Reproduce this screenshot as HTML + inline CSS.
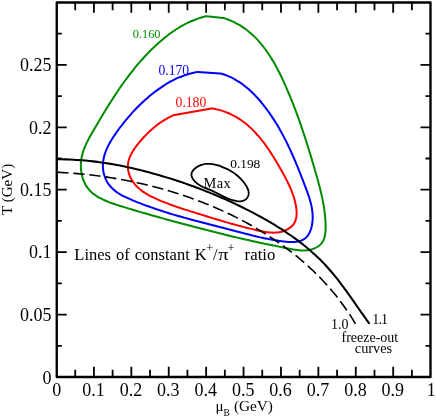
<!DOCTYPE html>
<html><head><meta charset="utf-8"><title>chart</title>
<style>html,body{margin:0;padding:0;background:#fff;}body{width:436px;height:418px;overflow:hidden;font-family:"Liberation Serif",serif;}</style></head>
<body>
<div style="width:436px;height:418px;will-change:transform">
<svg width="436" height="418" viewBox="0 0 436 418" style="display:block">
<defs><mask id="tm" maskUnits="userSpaceOnUse" x="0" y="0" width="436" height="418"><rect width="436" height="418" fill="#fff"/></mask></defs>
<rect width="436" height="418" fill="#fff"/>
<g fill="none" stroke-linejoin="round" stroke-linecap="butt">
<path d="M206.20,16.20C207.78,16.38 212.73,16.98 215.70,17.30C218.67,17.62 222.62,17.97 224.00,18.10C224.66,18.33 226.65,18.98 227.94,19.47C229.22,19.96 230.48,20.49 231.72,21.04C232.96,21.59 234.17,22.17 235.36,22.78C236.55,23.39 237.71,24.03 238.85,24.70C239.99,25.37 241.11,26.07 242.21,26.79C243.31,27.51 244.38,28.26 245.43,29.03C246.49,29.80 247.52,30.60 248.53,31.42C249.54,32.24 250.53,33.09 251.50,33.96C252.48,34.82 253.43,35.71 254.36,36.62C255.29,37.53 256.20,38.47 257.10,39.42C258.00,40.37 258.87,41.34 259.73,42.33C260.59,43.32 261.43,44.33 262.26,45.35C263.09,46.38 263.89,47.42 264.69,48.48C265.48,49.53 266.26,50.61 267.02,51.70C267.78,52.78 268.53,53.89 269.26,55.00C270.00,56.11 270.72,57.24 271.42,58.38C272.13,59.52 272.82,60.67 273.50,61.84C274.18,63.00 274.85,64.17 275.50,65.35C276.16,66.53 276.80,67.72 277.43,68.92C278.07,70.12 278.69,71.33 279.30,72.54C279.91,73.75 280.51,74.97 281.10,76.19C281.69,77.41 282.27,78.64 282.85,79.88C283.42,81.11 283.98,82.34 284.54,83.58C285.10,84.82 285.65,86.06 286.19,87.30C286.73,88.55 287.26,89.79 287.79,91.03C288.32,92.28 288.84,93.52 289.36,94.76C289.87,96.01 290.38,97.25 290.89,98.49C291.39,99.73 291.89,100.98 292.38,102.22C292.88,103.47 293.36,104.71 293.84,105.95C294.32,107.20 294.80,108.44 295.27,109.69C295.74,110.93 296.21,112.18 296.67,113.42C297.13,114.67 297.59,115.92 298.04,117.16C298.49,118.41 298.93,119.66 299.38,120.91C299.82,122.15 300.26,123.40 300.69,124.65C301.12,125.90 301.55,127.15 301.98,128.40C302.41,129.66 302.83,130.91 303.25,132.16C303.66,133.41 304.08,134.67 304.49,135.92C304.90,137.18 305.31,138.43 305.71,139.69C306.12,140.95 306.52,142.21 306.92,143.47C307.32,144.73 307.71,145.99 308.11,147.25C308.50,148.51 308.89,149.78 309.28,151.04C309.67,152.30 310.05,153.57 310.44,154.84C310.82,156.11 311.20,157.38 311.58,158.65C311.96,159.92 312.34,161.19 312.72,162.46C313.09,163.74 313.47,165.01 313.84,166.29C314.21,167.57 314.58,168.84 314.95,170.13C315.32,171.41 315.70,172.69 316.06,173.97C316.43,175.26 316.80,176.54 317.16,177.83C317.52,179.12 317.88,180.41 318.23,181.71C318.58,183.00 318.93,184.29 319.27,185.59C319.61,186.89 319.95,188.19 320.27,189.50C320.59,190.80 320.91,192.11 321.22,193.42C321.52,194.73 321.82,196.04 322.10,197.36C322.38,198.68 322.65,200.00 322.90,201.32C323.16,202.65 323.40,203.98 323.63,205.31C323.85,206.64 324.07,207.98 324.26,209.32C324.45,210.66 324.63,212.00 324.78,213.35C324.94,214.70 325.08,216.05 325.19,217.41C325.31,218.77 325.41,220.13 325.48,221.50C325.55,222.87 325.61,224.25 325.63,225.62C325.65,226.99 325.65,228.38 325.59,229.73C325.53,231.08 325.43,232.43 325.25,233.72C325.06,235.01 324.82,236.28 324.47,237.48C324.12,238.68 323.70,239.84 323.14,240.90C322.58,241.96 321.91,242.96 321.11,243.86C320.32,244.75 319.38,245.56 318.37,246.28C317.37,246.99 316.23,247.62 315.06,248.16C313.89,248.69 312.62,249.14 311.34,249.49C310.05,249.84 308.70,250.10 307.36,250.28C306.02,250.45 304.64,250.52 303.28,250.53C301.91,250.54 300.52,250.46 299.14,250.34C297.76,250.23 296.37,250.04 294.99,249.83C293.61,249.62 292.23,249.36 290.85,249.10C289.48,248.84 288.12,248.55 286.76,248.27C285.41,247.99 284.08,247.71 282.75,247.44C281.42,247.16 280.11,246.89 278.80,246.63C277.50,246.36 276.20,246.09 274.91,245.83C273.62,245.56 272.34,245.30 271.06,245.04C269.78,244.78 268.51,244.51 267.24,244.25C265.97,243.99 264.70,243.72 263.43,243.45C262.16,243.19 260.89,242.92 259.62,242.65C258.34,242.37 257.07,242.10 255.79,241.82C254.50,241.54 253.22,241.26 251.93,240.97C250.64,240.69 249.35,240.40 248.05,240.10C246.75,239.81 245.45,239.51 244.15,239.21C242.84,238.91 241.54,238.61 240.23,238.31C238.92,238.00 237.61,237.69 236.30,237.38C234.98,237.07 233.67,236.76 232.35,236.44C231.04,236.12 229.72,235.81 228.40,235.49C227.09,235.17 225.77,234.84 224.45,234.52C223.13,234.19 221.81,233.87 220.50,233.54C219.18,233.21 217.86,232.89 216.55,232.56C215.23,232.23 213.92,231.90 212.60,231.56C211.29,231.23 209.98,230.90 208.67,230.56C207.36,230.23 206.06,229.90 204.75,229.56C203.45,229.23 202.15,228.89 200.85,228.56C199.56,228.22 198.26,227.89 196.97,227.55C195.68,227.21 194.40,226.88 193.12,226.54C191.83,226.21 190.56,225.87 189.28,225.54C188.01,225.20 186.73,224.87 185.46,224.53C184.19,224.19 182.93,223.86 181.66,223.52C180.40,223.18 179.13,222.84 177.87,222.50C176.61,222.16 175.35,221.82 174.09,221.48C172.83,221.14 171.57,220.80 170.31,220.46C169.06,220.11 167.80,219.77 166.54,219.42C165.28,219.08 164.02,218.73 162.76,218.38C161.50,218.03 160.24,217.68 158.98,217.32C157.72,216.97 156.46,216.61 155.19,216.26C153.92,215.90 152.66,215.54 151.39,215.18C150.12,214.82 148.85,214.45 147.57,214.08C146.30,213.72 145.02,213.35 143.74,212.98C142.45,212.60 141.17,212.23 139.88,211.85C138.59,211.47 137.30,211.09 136.00,210.71C134.70,210.32 133.40,209.93 132.09,209.54C130.78,209.15 129.47,208.76 128.15,208.36C126.83,207.96 125.50,207.56 124.17,207.15C122.84,206.75 121.50,206.34 120.16,205.92C118.82,205.51 117.47,205.09 116.14,204.65C114.80,204.21 113.47,203.76 112.15,203.30C110.84,202.83 109.52,202.35 108.24,201.84C106.95,201.33 105.68,200.80 104.44,200.24C103.20,199.69 101.98,199.10 100.80,198.48C99.62,197.86 98.46,197.22 97.36,196.53C96.25,195.84 95.17,195.11 94.15,194.34C93.13,193.57 92.15,192.77 91.23,191.90C90.30,191.04 89.43,190.14 88.62,189.18C87.82,188.22 87.06,187.20 86.38,186.13C85.70,185.07 85.08,183.94 84.53,182.78C83.97,181.62 83.48,180.41 83.05,179.18C82.62,177.95 82.26,176.67 81.96,175.38C81.65,174.09 81.41,172.77 81.24,171.44C81.06,170.12 80.94,168.77 80.89,167.42C80.84,166.08 80.84,164.72 80.91,163.38C80.98,162.04 81.11,160.70 81.30,159.38C81.49,158.06 81.75,156.75 82.05,155.46C82.35,154.16 82.72,152.89 83.12,151.63C83.53,150.36 83.98,149.12 84.47,147.88C84.96,146.64 85.49,145.42 86.05,144.20C86.61,142.98 87.21,141.78 87.82,140.58C88.43,139.38 89.07,138.18 89.72,137.00C90.37,135.81 91.04,134.63 91.72,133.45C92.39,132.28 93.08,131.11 93.76,129.93C94.44,128.76 95.13,127.59 95.81,126.43C96.49,125.26 97.18,124.09 97.86,122.93C98.55,121.77 99.24,120.61 99.92,119.45C100.61,118.29 101.30,117.14 101.99,115.99C102.68,114.83 103.38,113.68 104.07,112.54C104.77,111.39 105.47,110.25 106.17,109.11C106.87,107.97 107.57,106.83 108.28,105.69C108.99,104.56 109.70,103.43 110.41,102.30C111.12,101.18 111.84,100.05 112.56,98.93C113.28,97.81 114.01,96.70 114.74,95.59C115.47,94.48 116.20,93.37 116.94,92.26C117.68,91.16 118.42,90.06 119.17,88.97C119.92,87.87 120.68,86.78 121.44,85.70C122.20,84.61 122.97,83.53 123.74,82.46C124.51,81.38 125.29,80.31 126.08,79.25C126.86,78.18 127.65,77.12 128.45,76.06C129.25,75.01 130.06,73.96 130.87,72.92C131.68,71.87 132.51,70.83 133.34,69.80C134.16,68.77 135.00,67.74 135.85,66.72C136.69,65.70 137.55,64.68 138.41,63.68C139.27,62.67 140.14,61.66 141.02,60.67C141.90,59.67 142.79,58.68 143.69,57.70C144.59,56.72 145.50,55.74 146.42,54.77C147.34,53.80 148.27,52.84 149.21,51.88C150.15,50.93 151.10,49.98 152.06,49.04C153.02,48.10 154.00,47.17 154.98,46.24C155.96,45.32 156.95,44.40 157.96,43.50C158.96,42.60 159.98,41.71 161.00,40.83C162.03,39.95 163.06,39.08 164.11,38.23C165.15,37.37 166.21,36.53 167.28,35.71C168.35,34.89 169.42,34.08 170.51,33.29C171.60,32.50 172.70,31.72 173.81,30.97C174.91,30.21 176.03,29.47 177.16,28.76C178.29,28.04 179.43,27.34 180.58,26.67C181.73,25.99 182.89,25.34 184.06,24.71C185.23,24.08 186.41,23.47 187.60,22.89C188.79,22.31 189.99,21.75 191.20,21.22C192.41,20.69 193.63,20.18 194.86,19.70C196.09,19.23 197.33,18.78 198.58,18.36C199.83,17.94 201.09,17.55 202.36,17.19C203.63,16.83 205.56,16.36 206.20,16.20Z" stroke="#008b00" stroke-width="2"/>
<path d="M197.60,72.00L219.90,73.40C220.55,73.58 222.51,74.09 223.78,74.50C225.06,74.90 226.31,75.36 227.55,75.85C228.78,76.34 230.00,76.88 231.20,77.45C232.40,78.02 233.58,78.63 234.74,79.27C235.90,79.91 237.04,80.59 238.17,81.30C239.30,82.01 240.40,82.75 241.49,83.52C242.58,84.30 243.65,85.10 244.71,85.92C245.76,86.75 246.80,87.61 247.82,88.49C248.84,89.36 249.85,90.27 250.83,91.19C251.82,92.11 252.79,93.06 253.75,94.02C254.70,94.98 255.64,95.97 256.56,96.96C257.48,97.96 258.39,98.97 259.28,100.00C260.17,101.02 261.05,102.06 261.91,103.11C262.77,104.16 263.61,105.22 264.44,106.29C265.27,107.36 266.09,108.43 266.89,109.51C267.69,110.59 268.48,111.68 269.25,112.77C270.03,113.87 270.79,114.97 271.53,116.07C272.28,117.18 273.01,118.29 273.73,119.41C274.46,120.53 275.17,121.66 275.86,122.79C276.56,123.92 277.25,125.05 277.92,126.20C278.60,127.34 279.26,128.49 279.91,129.64C280.57,130.79 281.21,131.95 281.84,133.12C282.48,134.28 283.10,135.45 283.72,136.62C284.33,137.80 284.94,138.98 285.53,140.16C286.13,141.35 286.72,142.53 287.30,143.73C287.88,144.92 288.45,146.12 289.02,147.32C289.58,148.52 290.14,149.73 290.70,150.94C291.25,152.15 291.79,153.37 292.33,154.59C292.87,155.81 293.41,157.03 293.93,158.26C294.46,159.49 294.99,160.72 295.51,161.95C296.02,163.19 296.54,164.43 297.05,165.67C297.56,166.91 298.07,168.16 298.57,169.40C299.07,170.65 299.57,171.91 300.07,173.16C300.57,174.41 301.06,175.67 301.55,176.93C302.04,178.19 302.53,179.46 303.02,180.72C303.51,181.99 304.00,183.26 304.49,184.53C304.97,185.80 305.46,187.07 305.94,188.35C306.42,189.63 306.90,190.91 307.36,192.19C307.82,193.47 308.27,194.76 308.70,196.05C309.13,197.34 309.54,198.64 309.91,199.94C310.29,201.24 310.65,202.54 310.96,203.85C311.27,205.16 311.56,206.48 311.80,207.80C312.03,209.13 312.23,210.45 312.38,211.79C312.52,213.13 312.62,214.47 312.66,215.82C312.69,217.17 312.68,218.54 312.60,219.90C312.51,221.26 312.37,222.63 312.15,223.97C311.94,225.30 311.66,226.64 311.31,227.91C310.95,229.18 310.53,230.42 310.02,231.58C309.51,232.74 308.93,233.85 308.27,234.86C307.60,235.86 306.85,236.80 306.02,237.61C305.18,238.42 304.25,239.13 303.24,239.71C302.23,240.28 301.12,240.72 299.95,241.07C298.79,241.42 297.53,241.65 296.25,241.81C294.96,241.97 293.60,242.02 292.23,242.04C290.87,242.05 289.45,241.98 288.03,241.89C286.62,241.79 285.18,241.64 283.76,241.48C282.34,241.32 280.92,241.13 279.52,240.94C278.11,240.74 276.72,240.53 275.34,240.30C273.97,240.08 272.60,239.84 271.24,239.60C269.88,239.35 268.53,239.09 267.19,238.82C265.85,238.55 264.52,238.27 263.19,237.98C261.87,237.70 260.55,237.40 259.24,237.10C257.93,236.79 256.62,236.48 255.32,236.17C254.02,235.85 252.73,235.53 251.44,235.20C250.14,234.88 248.86,234.55 247.57,234.22C246.29,233.88 245.01,233.55 243.73,233.21C242.45,232.88 241.17,232.54 239.89,232.20C238.61,231.86 237.33,231.52 236.05,231.19C234.78,230.85 233.50,230.52 232.22,230.18C230.94,229.85 229.65,229.52 228.37,229.19C227.09,228.86 225.81,228.53 224.52,228.20C223.24,227.87 221.96,227.55 220.67,227.22C219.39,226.89 218.10,226.56 216.81,226.24C215.53,225.91 214.24,225.58 212.96,225.25C211.67,224.93 210.38,224.60 209.09,224.27C207.81,223.94 206.52,223.61 205.23,223.28C203.94,222.95 202.65,222.61 201.36,222.28C200.08,221.94 198.79,221.61 197.50,221.27C196.21,220.93 194.92,220.59 193.63,220.24C192.34,219.90 191.05,219.55 189.76,219.20C188.48,218.86 187.19,218.50 185.90,218.15C184.61,217.79 183.32,217.43 182.03,217.07C180.75,216.71 179.46,216.34 178.17,215.97C176.88,215.60 175.60,215.22 174.31,214.84C173.02,214.46 171.74,214.08 170.45,213.69C169.17,213.30 167.88,212.91 166.60,212.51C165.31,212.10 164.03,211.70 162.74,211.29C161.46,210.88 160.18,210.46 158.90,210.04C157.62,209.61 156.34,209.18 155.06,208.75C153.78,208.31 152.50,207.87 151.22,207.41C149.94,206.96 148.66,206.51 147.39,206.04C146.11,205.58 144.84,205.10 143.56,204.62C142.29,204.14 141.02,203.65 139.75,203.16C138.48,202.66 137.21,202.16 135.94,201.64C134.67,201.13 133.40,200.61 132.14,200.07C130.87,199.54 129.61,199.00 128.36,198.44C127.11,197.87 125.87,197.30 124.66,196.69C123.45,196.09 122.25,195.46 121.09,194.80C119.93,194.13 118.79,193.45 117.70,192.71C116.61,191.98 115.55,191.21 114.55,190.39C113.54,189.57 112.58,188.72 111.68,187.80C110.78,186.88 109.93,185.92 109.15,184.89C108.37,183.86 107.66,182.77 107.01,181.64C106.37,180.51 105.79,179.32 105.29,178.10C104.79,176.89 104.36,175.62 104.01,174.35C103.66,173.07 103.39,171.76 103.20,170.44C103.01,169.13 102.90,167.78 102.88,166.45C102.85,165.12 102.92,163.77 103.05,162.44C103.18,161.11 103.39,159.78 103.65,158.48C103.92,157.17 104.25,155.87 104.63,154.59C105.02,153.31 105.46,152.05 105.95,150.80C106.44,149.55 106.98,148.32 107.55,147.10C108.13,145.87 108.75,144.67 109.40,143.47C110.05,142.28 110.74,141.10 111.46,139.93C112.17,138.76 112.91,137.61 113.67,136.47C114.42,135.32 115.21,134.19 116.00,133.07C116.78,131.95 117.59,130.85 118.40,129.75C119.21,128.66 120.02,127.57 120.84,126.50C121.66,125.42 122.49,124.36 123.32,123.31C124.15,122.26 124.99,121.21 125.84,120.18C126.69,119.15 127.54,118.13 128.41,117.12C129.27,116.11 130.14,115.11 131.03,114.13C131.91,113.14 132.80,112.16 133.70,111.19C134.60,110.22 135.51,109.26 136.43,108.31C137.35,107.37 138.28,106.43 139.22,105.50C140.17,104.57 141.12,103.65 142.09,102.74C143.05,101.83 144.03,100.93 145.02,100.04C146.01,99.15 147.01,98.27 148.03,97.40C149.04,96.53 150.07,95.67 151.12,94.82C152.16,93.97 153.21,93.13 154.28,92.31C155.35,91.49 156.43,90.68 157.52,89.88C158.61,89.09 159.72,88.31 160.83,87.55C161.95,86.79 163.08,86.05 164.22,85.32C165.36,84.60 166.51,83.90 167.67,83.22C168.83,82.53 170.01,81.87 171.19,81.24C172.38,80.60 173.58,79.99 174.78,79.40C175.99,78.81 177.21,78.25 178.43,77.71C179.66,77.18 180.90,76.67 182.15,76.20C183.40,75.72 184.66,75.27 185.93,74.85C187.19,74.44 188.47,74.05 189.76,73.70C191.05,73.35 192.35,73.03 193.65,72.74C194.96,72.46 196.94,72.12 197.60,72.00Z" stroke="#0000ff" stroke-width="2"/>
<path d="M173.10,115.30L211.60,108.40C212.30,108.52 214.42,108.86 215.79,109.14C217.16,109.43 218.51,109.76 219.84,110.12C221.16,110.48 222.46,110.88 223.73,111.32C225.01,111.75 226.26,112.22 227.50,112.72C228.73,113.22 229.94,113.76 231.12,114.33C232.31,114.90 233.48,115.50 234.62,116.13C235.77,116.76 236.89,117.42 237.99,118.10C239.10,118.79 240.18,119.51 241.25,120.25C242.31,121.00 243.36,121.77 244.39,122.56C245.42,123.36 246.43,124.18 247.42,125.03C248.41,125.87 249.39,126.74 250.34,127.63C251.30,128.52 252.24,129.43 253.17,130.36C254.09,131.29 255.00,132.25 255.90,133.22C256.79,134.19 257.67,135.18 258.54,136.18C259.40,137.19 260.26,138.21 261.09,139.25C261.93,140.29 262.76,141.34 263.57,142.41C264.38,143.48 265.18,144.56 265.97,145.65C266.75,146.74 267.53,147.85 268.29,148.96C269.06,150.08 269.81,151.20 270.55,152.34C271.30,153.47 272.03,154.61 272.75,155.76C273.48,156.91 274.19,158.07 274.90,159.23C275.60,160.39 276.30,161.56 276.99,162.73C277.68,163.90 278.36,165.08 279.03,166.25C279.71,167.43 280.38,168.61 281.04,169.79C281.70,170.96 282.36,172.14 283.01,173.32C283.65,174.50 284.30,175.68 284.93,176.86C285.56,178.04 286.18,179.23 286.78,180.41C287.39,181.60 287.98,182.79 288.55,183.99C289.13,185.19 289.68,186.39 290.21,187.61C290.74,188.82 291.26,190.04 291.74,191.28C292.22,192.51 292.68,193.75 293.11,195.00C293.54,196.26 293.94,197.53 294.30,198.81C294.66,200.09 295.00,201.39 295.29,202.70C295.59,204.01 295.85,205.35 296.06,206.69C296.27,208.03 296.45,209.40 296.54,210.74C296.63,212.08 296.67,213.43 296.59,214.73C296.51,216.02 296.37,217.31 296.08,218.53C295.79,219.74 295.40,220.92 294.86,222.01C294.32,223.11 293.62,224.14 292.83,225.08C292.04,226.02 291.11,226.88 290.11,227.66C289.12,228.43 288.01,229.12 286.87,229.72C285.72,230.32 284.50,230.83 283.26,231.23C282.03,231.64 280.75,231.95 279.46,232.17C278.18,232.40 276.86,232.52 275.54,232.59C274.21,232.65 272.86,232.63 271.51,232.56C270.16,232.49 268.79,232.36 267.42,232.19C266.05,232.02 264.67,231.79 263.30,231.55C261.92,231.30 260.54,231.02 259.17,230.73C257.81,230.44 256.44,230.13 255.08,229.82C253.73,229.51 252.38,229.19 251.04,228.87C249.70,228.55 248.37,228.22 247.04,227.89C245.72,227.56 244.40,227.22 243.09,226.88C241.78,226.54 240.48,226.20 239.18,225.85C237.88,225.50 236.59,225.15 235.30,224.80C234.01,224.44 232.73,224.08 231.45,223.72C230.17,223.36 228.90,222.99 227.63,222.62C226.36,222.26 225.09,221.88 223.82,221.51C222.56,221.14 221.30,220.76 220.04,220.38C218.78,220.01 217.52,219.63 216.27,219.24C215.01,218.86 213.76,218.48 212.51,218.10C211.25,217.71 210.00,217.32 208.75,216.94C207.50,216.55 206.24,216.16 204.99,215.78C203.74,215.39 202.49,215.00 201.23,214.61C199.97,214.22 198.72,213.83 197.46,213.44C196.20,213.05 194.94,212.67 193.68,212.28C192.42,211.89 191.15,211.50 189.89,211.10C188.62,210.71 187.36,210.31 186.09,209.91C184.82,209.51 183.55,209.11 182.29,208.70C181.02,208.29 179.75,207.87 178.49,207.45C177.22,207.02 175.95,206.59 174.69,206.15C173.42,205.71 172.16,205.26 170.89,204.80C169.63,204.34 168.37,203.87 167.11,203.39C165.85,202.91 164.59,202.41 163.34,201.91C162.09,201.40 160.83,200.88 159.58,200.34C158.34,199.80 157.09,199.25 155.85,198.68C154.61,198.11 153.37,197.53 152.14,196.92C150.92,196.31 149.70,195.68 148.51,195.02C147.32,194.35 146.14,193.67 145.00,192.94C143.85,192.22 142.73,191.46 141.66,190.66C140.58,189.85 139.54,189.02 138.55,188.12C137.56,187.23 136.61,186.30 135.72,185.31C134.83,184.31 133.99,183.26 133.22,182.17C132.46,181.07 131.74,179.91 131.12,178.73C130.49,177.55 129.93,176.32 129.48,175.08C129.02,173.85 128.64,172.57 128.37,171.30C128.10,170.04 127.92,168.75 127.87,167.48C127.81,166.21 127.87,164.94 128.03,163.68C128.19,162.43 128.46,161.18 128.82,159.95C129.17,158.72 129.63,157.50 130.15,156.30C130.66,155.09 131.27,153.90 131.93,152.73C132.58,151.55 133.31,150.39 134.07,149.25C134.83,148.11 135.65,146.98 136.48,145.88C137.32,144.77 138.20,143.68 139.08,142.62C139.96,141.55 140.86,140.50 141.77,139.48C142.67,138.45 143.59,137.45 144.51,136.47C145.43,135.49 146.37,134.53 147.31,133.59C148.26,132.65 149.21,131.74 150.18,130.84C151.15,129.95 152.13,129.07 153.13,128.22C154.13,127.37 155.14,126.54 156.17,125.74C157.20,124.93 158.24,124.14 159.31,123.38C160.37,122.62 161.46,121.88 162.56,121.16C163.67,120.44 164.79,119.74 165.94,119.07C167.08,118.40 168.25,117.75 169.45,117.12C170.64,116.49 172.49,115.60 173.10,115.30Z" stroke="#ff0000" stroke-width="2"/>
<path d="M57.30,172.30C57.96,172.33 59.95,172.42 61.27,172.49C62.60,172.56 63.92,172.64 65.25,172.72C66.58,172.80 67.91,172.89 69.23,172.98C70.56,173.07 71.89,173.17 73.22,173.28C74.55,173.38 75.88,173.49 77.21,173.60C78.55,173.72 79.88,173.84 81.21,173.97C82.54,174.09 83.87,174.23 85.21,174.36C86.54,174.50 87.87,174.65 89.21,174.80C90.54,174.95 91.87,175.10 93.21,175.26C94.54,175.42 95.88,175.59 97.21,175.76C98.54,175.93 99.88,176.11 101.21,176.30C102.55,176.48 103.88,176.67 105.21,176.87C106.55,177.06 107.88,177.26 109.21,177.47C110.55,177.68 111.88,177.89 113.21,178.11C114.55,178.33 115.88,178.55 117.21,178.78C118.54,179.01 119.87,179.25 121.20,179.49C122.54,179.73 123.87,179.98 125.19,180.24C126.52,180.49 127.85,180.75 129.18,181.02C130.51,181.28 131.84,181.55 133.16,181.83C134.49,182.11 135.81,182.39 137.14,182.68C138.46,182.97 139.79,183.27 141.11,183.57C142.43,183.87 143.75,184.18 145.07,184.49C146.39,184.80 147.71,185.12 149.03,185.45C150.35,185.78 151.67,186.11 152.98,186.44C154.30,186.78 155.61,187.12 156.92,187.47C158.23,187.82 159.54,188.18 160.85,188.54C162.16,188.90 163.47,189.27 164.77,189.64C166.08,190.02 167.38,190.40 168.69,190.78C169.99,191.17 171.29,191.56 172.59,191.96C173.89,192.36 175.18,192.76 176.48,193.17C177.77,193.58 179.07,194.00 180.36,194.42C181.65,194.84 182.94,195.27 184.22,195.71C185.51,196.14 186.79,196.58 188.07,197.03C189.36,197.48 190.63,197.93 191.91,198.39C193.19,198.85 194.46,199.31 195.74,199.78C197.01,200.26 198.28,200.73 199.54,201.22C200.81,201.70 202.08,202.19 203.34,202.69C204.60,203.19 205.86,203.69 207.11,204.20C208.37,204.71 209.62,205.22 210.87,205.75C212.12,206.27 213.37,206.80 214.62,207.33C215.86,207.87 217.10,208.41 218.34,208.95C219.58,209.50 220.81,210.05 222.05,210.61C223.28,211.17 224.51,211.74 225.73,212.31C226.96,212.88 228.18,213.46 229.40,214.05C230.62,214.63 231.83,215.22 233.04,215.82C234.26,216.42 235.46,217.02 236.67,217.63C237.87,218.25 239.07,218.86 240.27,219.49C241.47,220.11 242.66,220.74 243.85,221.38C245.04,222.01 246.23,222.65 247.41,223.30C248.59,223.95 249.77,224.61 250.94,225.27C252.12,225.93 253.29,226.60 254.45,227.28C255.62,227.95 256.78,228.63 257.94,229.32C259.09,230.01 260.25,230.70 261.40,231.41C262.54,232.11 263.69,232.81 264.83,233.53C265.97,234.24 267.10,234.96 268.23,235.69C269.36,236.42 270.49,237.15 271.61,237.90C272.73,238.64 273.85,239.38 274.96,240.14C276.07,240.89 277.18,241.65 278.28,242.42C279.38,243.19 280.48,243.96 281.57,244.75C282.66,245.53 283.74,246.32 284.82,247.11C285.90,247.91 286.98,248.71 288.05,249.52C289.11,250.33 290.18,251.14 291.24,251.97C292.29,252.79 293.34,253.62 294.39,254.45C295.44,255.29 296.48,256.14 297.51,256.99C298.55,257.84 299.57,258.69 300.60,259.56C301.62,260.42 302.63,261.30 303.64,262.18C304.65,263.05 305.66,263.94 306.65,264.83C307.65,265.73 308.64,266.63 309.63,267.54C310.61,268.44 311.59,269.36 312.56,270.28C313.53,271.20 314.49,272.13 315.45,273.07C316.41,274.01 317.36,274.95 318.30,275.90C319.24,276.85 320.18,277.81 321.11,278.78C322.03,279.74 322.96,280.72 323.87,281.70C324.79,282.68 325.69,283.67 326.59,284.66C327.49,285.66 328.38,286.66 329.27,287.67C330.15,288.68 331.03,289.70 331.90,290.73C332.77,291.75 333.63,292.78 334.48,293.82C335.34,294.87 336.18,295.91 337.02,296.97C337.86,298.03 338.69,299.09 339.51,300.16C340.33,301.23 341.14,302.31 341.95,303.40C342.75,304.48 343.55,305.58 344.34,306.68C345.12,307.78 345.90,308.89 346.67,310.01C347.44,311.13 348.21,312.25 348.96,313.39C349.71,314.52 350.46,315.66 351.19,316.81C351.93,317.96 352.66,319.12 353.37,320.28C354.09,321.45 355.15,323.21 355.50,323.80" stroke="#000" stroke-width="1.6" stroke-dasharray="11.3,4.73"/>
<path d="M57.30,159.30C57.97,159.30 60.00,159.30 61.35,159.31C62.69,159.32 64.04,159.35 65.38,159.38C66.73,159.41 68.07,159.45 69.41,159.51C70.75,159.56 72.09,159.62 73.42,159.69C74.76,159.76 76.10,159.83 77.43,159.92C78.77,160.01 80.10,160.11 81.43,160.21C82.76,160.32 84.09,160.43 85.42,160.55C86.74,160.67 88.07,160.80 89.39,160.94C90.72,161.08 92.04,161.23 93.36,161.38C94.68,161.54 96.00,161.70 97.32,161.87C98.64,162.04 99.96,162.22 101.27,162.41C102.59,162.60 103.90,162.79 105.22,162.99C106.53,163.20 107.84,163.40 109.15,163.62C110.46,163.84 111.77,164.06 113.08,164.29C114.38,164.52 115.69,164.76 116.99,165.01C118.30,165.25 119.60,165.50 120.90,165.76C122.21,166.02 123.51,166.29 124.81,166.56C126.10,166.83 127.40,167.11 128.70,167.39C130.00,167.68 131.29,167.97 132.59,168.27C133.88,168.56 135.17,168.87 136.47,169.17C137.76,169.48 139.05,169.80 140.34,170.12C141.63,170.44 142.92,170.77 144.21,171.10C145.49,171.43 146.78,171.77 148.06,172.11C149.35,172.45 150.63,172.80 151.92,173.15C153.20,173.51 154.48,173.87 155.76,174.23C157.04,174.59 158.32,174.96 159.60,175.33C160.88,175.71 162.16,176.08 163.44,176.47C164.71,176.85 165.99,177.24 167.26,177.63C168.54,178.02 169.81,178.42 171.08,178.82C172.36,179.22 173.63,179.63 174.90,180.04C176.17,180.45 177.43,180.86 178.70,181.29C179.97,181.71 181.23,182.13 182.50,182.56C183.76,182.99 185.02,183.43 186.29,183.87C187.55,184.31 188.81,184.76 190.06,185.21C191.32,185.66 192.58,186.11 193.83,186.57C195.09,187.03 196.34,187.50 197.59,187.97C198.84,188.43 200.09,188.91 201.34,189.39C202.59,189.87 203.83,190.35 205.08,190.84C206.32,191.33 207.57,191.83 208.81,192.33C210.05,192.82 211.28,193.33 212.52,193.84C213.76,194.35 214.99,194.86 216.22,195.38C217.46,195.90 218.69,196.42 219.91,196.95C221.14,197.48 222.37,198.02 223.59,198.56C224.81,199.09 226.04,199.64 227.26,200.19C228.47,200.74 229.69,201.29 230.91,201.85C232.12,202.41 233.33,202.97 234.54,203.54C235.75,204.11 236.96,204.69 238.16,205.27C239.37,205.84 240.57,206.43 241.77,207.02C242.97,207.61 244.17,208.20 245.36,208.80C246.56,209.40 247.75,210.01 248.94,210.62C250.13,211.23 251.31,211.84 252.50,212.46C253.68,213.08 254.86,213.71 256.04,214.34C257.22,214.97 258.39,215.60 259.56,216.24C260.73,216.88 261.90,217.53 263.07,218.18C264.23,218.83 265.40,219.49 266.55,220.15C267.71,220.82 268.87,221.49 270.02,222.16C271.17,222.84 272.31,223.52 273.45,224.20C274.60,224.89 275.73,225.59 276.87,226.29C278.00,226.99 279.13,227.69 280.25,228.41C281.37,229.12 282.49,229.84 283.60,230.57C284.71,231.30 285.82,232.04 286.92,232.78C288.02,233.52 289.12,234.27 290.21,235.03C291.30,235.79 292.38,236.55 293.46,237.33C294.53,238.10 295.60,238.88 296.67,239.67C297.73,240.46 298.79,241.26 299.84,242.06C300.89,242.87 301.93,243.68 302.97,244.51C304.01,245.33 305.03,246.16 306.06,247.00C307.08,247.84 308.09,248.69 309.10,249.55C310.10,250.41 311.10,251.28 312.09,252.15C313.08,253.03 314.06,253.92 315.03,254.81C316.01,255.71 316.97,256.62 317.93,257.53C318.88,258.45 319.83,259.37 320.76,260.31C321.70,261.25 322.63,262.19 323.55,263.15C324.47,264.11 325.38,265.07 326.27,266.05C327.17,267.03 328.06,268.02 328.94,269.01C329.82,270.01 330.69,271.02 331.56,272.04C332.42,273.05 333.28,274.08 334.12,275.11C334.97,276.14 335.81,277.18 336.64,278.23C337.47,279.28 338.30,280.33 339.12,281.40C339.94,282.46 340.75,283.52 341.56,284.59C342.37,285.67 343.17,286.74 343.97,287.82C344.77,288.90 345.56,289.99 346.35,291.08C347.14,292.17 347.92,293.26 348.70,294.35C349.48,295.45 350.26,296.54 351.04,297.64C351.81,298.74 352.58,299.84 353.36,300.94C354.13,302.04 354.89,303.14 355.66,304.24C356.43,305.34 357.20,306.44 357.96,307.54C358.73,308.63 359.49,309.73 360.26,310.83C361.02,311.92 361.79,313.01 362.56,314.10C363.32,315.19 364.09,316.28 364.86,317.36C365.63,318.44 366.40,319.52 367.17,320.60C367.95,321.67 369.11,323.27 369.50,323.80" stroke="#000" stroke-width="2.05"/>
<path d="M191.45,175.48C191.29,174.34 191.51,173.19 191.97,172.12C192.42,171.06 193.25,170.03 194.18,169.11C195.11,168.19 196.33,167.33 197.57,166.62C198.81,165.91 200.25,165.29 201.63,164.84C203.01,164.39 204.46,164.09 205.86,163.92C207.26,163.76 208.66,163.76 210.04,163.85C211.42,163.93 212.79,164.15 214.13,164.43C215.48,164.70 216.80,165.08 218.10,165.48C219.40,165.88 220.67,166.35 221.91,166.83C223.15,167.30 224.35,167.80 225.54,168.33C226.72,168.86 227.87,169.41 229.01,170.02C230.14,170.63 231.25,171.27 232.35,171.98C233.45,172.69 234.53,173.44 235.60,174.27C236.68,175.11 237.74,176.00 238.80,176.98C239.86,177.96 240.94,179.04 241.95,180.16C242.96,181.29 243.99,182.51 244.86,183.73C245.73,184.95 246.56,186.24 247.17,187.50C247.78,188.76 248.29,190.05 248.53,191.27C248.76,192.50 248.81,193.74 248.58,194.86C248.35,195.98 247.83,197.10 247.14,198.01C246.45,198.92 245.50,199.75 244.45,200.32C243.39,200.88 242.11,201.24 240.80,201.38C239.50,201.52 238.02,201.36 236.62,201.17C235.23,200.97 233.80,200.60 232.45,200.21C231.10,199.82 229.80,199.33 228.52,198.82C227.24,198.31 226.00,197.73 224.77,197.14C223.53,196.56 222.33,195.92 221.12,195.29C219.91,194.67 218.71,194.02 217.50,193.40C216.29,192.78 215.08,192.15 213.85,191.57C212.61,190.99 211.35,190.46 210.09,189.93C208.83,189.39 207.54,188.91 206.28,188.37C205.02,187.83 203.75,187.30 202.53,186.69C201.30,186.07 200.09,185.44 198.94,184.68C197.80,183.92 196.66,183.09 195.65,182.13C194.64,181.18 193.59,180.06 192.89,178.95C192.19,177.84 191.60,176.62 191.45,175.48Z" stroke="#000" stroke-width="1.8"/>
</g>
<rect x="56.75" y="2.45" width="373.75" height="374.55" fill="none" stroke="#000" stroke-width="2.35" stroke-linejoin="round"/>
<path d="M75.20,377.00 v-7.20M75.20,2.45 v7.70M93.91,377.00 v-10.30M93.91,2.45 v10.30M112.62,377.00 v-7.20M112.62,2.45 v7.70M131.32,377.00 v-10.30M131.32,2.45 v10.30M150.03,377.00 v-7.20M150.03,2.45 v7.70M168.73,377.00 v-10.30M168.73,2.45 v10.30M187.44,377.00 v-7.20M187.44,2.45 v7.70M206.14,377.00 v-10.30M206.14,2.45 v10.30M224.85,377.00 v-7.20M224.85,2.45 v7.70M243.55,377.00 v-10.30M243.55,2.45 v10.30M262.25,377.00 v-7.20M262.25,2.45 v7.70M280.96,377.00 v-10.30M280.96,2.45 v10.30M299.67,377.00 v-7.20M299.67,2.45 v7.70M318.37,377.00 v-10.30M318.37,2.45 v10.30M337.07,377.00 v-7.20M337.07,2.45 v7.70M355.78,377.00 v-10.30M355.78,2.45 v10.30M374.49,377.00 v-7.20M374.49,2.45 v7.70M393.19,377.00 v-10.30M393.19,2.45 v10.30M411.90,377.00 v-7.20M411.90,2.45 v7.70M56.75,345.79 h5.00M430.50,345.79 h-5.00M56.75,314.57 h10.00M430.50,314.57 h-10.00M56.75,283.36 h5.00M430.50,283.36 h-5.00M56.75,252.15 h10.00M430.50,252.15 h-10.00M56.75,220.94 h5.00M430.50,220.94 h-5.00M56.75,189.72 h10.00M430.50,189.72 h-10.00M56.75,158.51 h5.00M430.50,158.51 h-5.00M56.75,127.30 h10.00M430.50,127.30 h-10.00M56.75,96.09 h5.00M430.50,96.09 h-5.00M56.75,64.88 h10.00M430.50,64.88 h-10.00M56.75,33.66 h5.00M430.50,33.66 h-5.00" stroke="#000" stroke-width="1.8" fill="none"/>
<g mask="url(#tm)" font-family="'Liberation Serif', serif" fill="#000">
<g font-size="18px" text-anchor="middle">
<text x="56.70" y="395.8">0</text>
<text x="93.51" y="395.8">0.1</text>
<text x="130.92" y="395.8">0.2</text>
<text x="168.33" y="395.8">0.3</text>
<text x="205.74" y="395.8">0.4</text>
<text x="243.15" y="395.8">0.5</text>
<text x="280.56" y="395.8">0.6</text>
<text x="317.97" y="395.8">0.7</text>
<text x="355.38" y="395.8">0.8</text>
<text x="392.79" y="395.8">0.9</text>
<text x="431.20" y="395.8">1</text>
</g>
<g font-size="18px" text-anchor="end">
<text x="51.5" y="383.90">0</text>
<text x="51.5" y="320.77">0.05</text>
<text x="51.5" y="258.35">0.1</text>
<text x="51.5" y="195.92">0.15</text>
<text x="51.5" y="133.50">0.2</text>
<text x="51.5" y="71.08">0.25</text>
</g>
<text font-size="14.2px" text-anchor="middle" transform="translate(11.6,189.4) rotate(-90) scale(1.06,1)">T (GeV)</text>
<text font-size="15px" x="215.6" y="410.9">μ</text>
<text font-size="9.5px" x="223.6" y="416.0">B</text>
<text font-size="15.3px" x="233.9" y="410.9">(GeV)</text>
<text font-size="16.5px" x="74.3" y="259.6" word-spacing="0.9px">Lines of constant K</text>
<text font-size="12.5px" x="206.2" y="252.2">+</text>
<text font-size="16.5px" x="212.9" y="259.6">/</text>
<text font-size="16.5px" transform="translate(218.2,259.6) scale(1.22,1)">π</text>
<text font-size="12.5px" x="227.6" y="252.2">+</text>
<text font-size="16.8px" x="244.6" y="259.6">ratio</text>
<text font-size="12.3px" x="132.8" y="37.5" fill="#008b00">0.160</text>
<text font-size="13.6px" x="158.5" y="74.5" fill="#0000ff">0.170</text>
<text font-size="13.6px" x="175.6" y="107.2" fill="#ff0000">0.180</text>
<text font-size="13.4px" x="230.2" y="168.4">0.198</text>
<text font-size="14.4px" x="203.6" y="188.2" letter-spacing="0.35px">Max</text>
<text font-size="14px" x="330.9" y="328.8">1.0</text>
<text font-size="14px" x="372.2" y="324" letter-spacing="-0.8px">1.1</text>
<text font-size="14px" x="341.5" y="341.6">freeze-out</text>
<text font-size="14.3px" x="354.8" y="353.0">curves</text>
</g>
</svg>
</div>
</body></html>
